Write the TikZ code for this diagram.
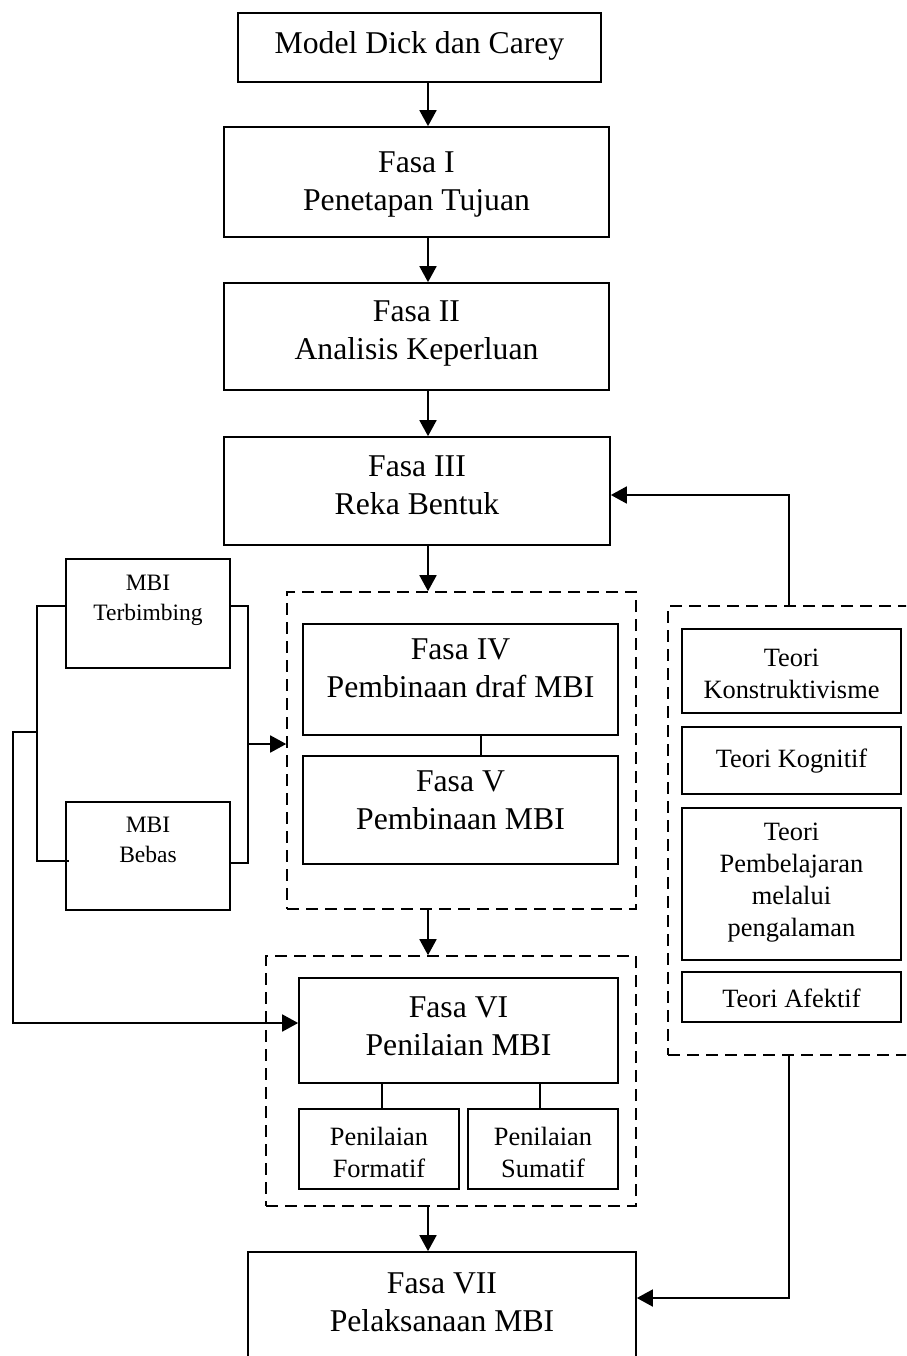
\documentclass[tikz,border=0pt]{standalone}
\usepackage{fontspec}
\setmainfont{Liberation Serif}
\usetikzlibrary{arrows.meta,fit}
\begin{document}
\begin{tikzpicture}[x=1pt,y=-1pt,
  box/.style={draw, line width=1.7pt, inner sep=0pt},
  group/.style={draw, line width=1.6pt, dash pattern=on 12pt off 7pt, inner sep=0pt},
  maintxt/.style={font=\fontsize{31.7}{37.5}\selectfont, align=center, inner sep=0pt, anchor=north,
    execute at begin node={\rule{0pt}{24pt}}},
  smalltxt/.style={font=\fontsize{26.4}{31.8}\selectfont, align=center, inner sep=0pt, anchor=north,
    execute at begin node={\rule{0pt}{20pt}}},
  mbitxt/.style={font=\fontsize{23.5}{29.5}\selectfont, align=center, inner sep=0pt, anchor=north,
    execute at begin node={\rule{0pt}{18pt}}},
  link/.style={line width=1.8pt},
  arrow/.style={link, -{Triangle[length=16pt,width=17pt]}},
]
\useasboundingbox (0,0) rectangle (906,1356);
\clip (0,0) rectangle (906,1356);

% main column
\node[box, fit={(238,13) (601,82)}] (top) {};
\node[maintxt] (topt) at (419.5,29) {Model Dick dan Carey};
\node[box, fit={(224,127) (609,237)}] (f1) {};
\node[maintxt] (f1t) at (416.5,152) {Fasa I\\Penetapan Tujuan};
\node[box, fit={(224,283) (609,390)}] (f2) {};
\node[maintxt] (f2t) at (416.5,301) {Fasa II\\Analisis Keperluan};
\node[box, fit={(224,437) (610,545)}] (f3) {};
\node[maintxt] (f3t) at (417,456) {Fasa III\\Reka Bentuk};

% development group
\node[group, fit={(287,592) (636,909)}] (grpA) {};
\node[box, fit={(303,624) (618,735)}] (f4) {};
\node[maintxt] (f4t) at (460.5,639) {Fasa IV\\Pembinaan draf MBI};
\node[box, fit={(303,756) (618,864)}] (f5) {};
\node[maintxt] (f5t) at (460.5,771) {Fasa V\\Pembinaan MBI};

% evaluation group
\node[group, fit={(266,956) (636,1206)}] (grpB) {};
\node[box, fit={(299,978) (618,1083)}] (f6) {};
\node[maintxt] (f6t) at (458.5,997) {Fasa VI\\Penilaian MBI};
\node[box, fit={(299,1109) (459,1189)}] (form) {};
\node[smalltxt] (formt) at (379,1127) {Penilaian\\Formatif};
\node[box, fit={(468,1109) (618,1189)}] (sum) {};
\node[smalltxt] (sumt) at (543,1127) {Penilaian\\Sumatif};

% implementation
\node[box, fit={(248,1252) (636,1400)}] (f7) {};
\node[maintxt] (f7t) at (442,1273) {Fasa VII\\Pelaksanaan MBI};

% module types
\node[box, fit={(66,559) (230,668)}] (terb) {};
\node[mbitxt] (terbt) at (148,575) {MBI\\Terbimbing};
\node[box, fit={(66,802) (230,910)}] (bebas) {};
\node[mbitxt] (bebast) at (148,817) {MBI\\Bebas};

% theories
\node[group, fit={(668,606) (935,1055)}] (grpC) {};
\node[box, fit={(682,629) (901,713)}] (t1) {};
\node[smalltxt] (t1t) at (791.5,649) {Teori\\Konstruktivisme};
\node[box, fit={(682,727) (901,794)}] (t2) {};
\node[smalltxt] (t2t) at (791.5,747) {Teori Kognitif};
\node[box, fit={(682,808) (901,960)}] (t3) {};
\node[smalltxt] (t3t) at (791.5,823) {Teori\\Pembelajaran\\melalui\\pengalaman};
\node[box, fit={(682,972) (901,1022)}] (t4) {};
\node[smalltxt] (t4t) at (791.5,987) {Teori Afektif};

% connector guide columns
\coordinate (ax) at (428,0);
\coordinate (mid45) at (481,0);
\coordinate (cf) at (382,0);
\coordinate (cs) at (540,0);
\coordinate (bl) at (37,0);
\coordinate (br) at (248,0);
\coordinate (fl) at (13,0);
\coordinate (rx) at (789,0);
\coordinate (bstub) at ([xshift=4pt]bebas.west);

% main flow
\draw[arrow] (top.south -| ax) -- (f1.north -| ax);
\draw[arrow] (f1.south -| ax) -- (f2.north -| ax);
\draw[arrow] (f2.south -| ax) -- (f3.north -| ax);
\draw[arrow] (f3.south -| ax) -- (grpA.north -| ax);
\draw[arrow] (grpA.south -| ax) -- (grpB.north -| ax);
\draw[arrow] (grpB.south -| ax) -- (f7.north -| ax);
\draw[link] (f4.south -| mid45) -- (f5.north -| mid45);
\draw[link] (f6.south -| cf) -- (form.north -| cf);
\draw[link] (f6.south -| cs) -- (sum.north -| cs);

% module type brackets
\draw[link] (terb.west |- 0,606) -| (bl |- 0,861) -- (bstub |- 0,861);
\draw[link] (terb.east |- 0,606) -| (br |- 0,863) -- (bebas.east |- 0,863);
\draw[arrow] (br |- 0,744) -- (grpA.west |- 0,744);
\draw[arrow] (bl |- 0,732) -| (fl |- 0,1023) -- (f6.west |- 0,1023);

% theory feedback
\draw[arrow] (grpC.north -| rx) |- (f3.east |- 0,495);
\draw[arrow] (grpC.south -| rx) |- (f7.east |- 0,1298);
\end{tikzpicture}
\end{document}
